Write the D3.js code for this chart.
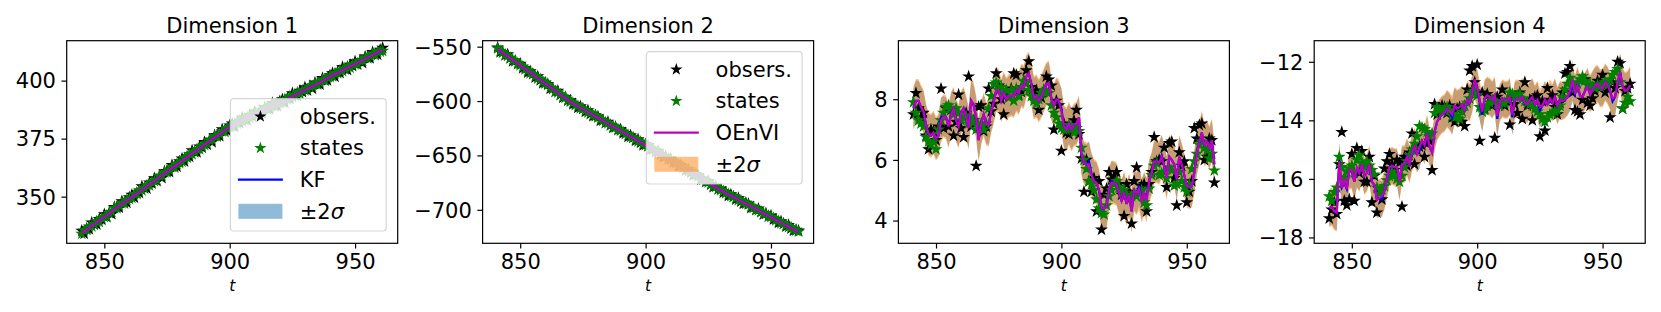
<!DOCTYPE html>
<html>
<head>
<meta charset="utf-8">
<script src="https://d3js.org/d3.v7.min.js"></script>
<style>
  body { margin: 0; background: #fff; }
  svg { display: block; font-family: "DejaVu Sans", sans-serif; }
</style>
</head>
<body>
<svg id="plot" width="1661" height="312"></svg>
<script>
// time steps shown on every panel
const tSteps = d3.range(841, 962);

// ---- Dimension 1 ----
const obs1 = [
  335.3, 334.0, 336.2, 336.0, 338.8, 338.0, 338.0, 340.3, 340.1, 342.4,
  341.2, 343.1, 342.5, 345.5, 345.5, 345.2, 348.0, 347.3, 347.4, 349.7,
  350.8, 349.6, 351.7, 351.6, 354.4, 353.6, 353.5, 356.0, 355.7, 357.9,
  356.8, 359.0, 358.0, 360.9, 361.0, 360.6, 363.6, 362.8, 362.9, 365.2,
  366.4, 365.2, 367.3, 367.2, 369.9, 369.2, 369.1, 371.6, 371.2, 373.5,
  372.4, 374.5, 373.5, 376.4, 376.4, 376.1, 379.0, 378.2, 378.3, 380.6,
  381.5, 380.1, 382.0, 381.7, 384.1, 383.1, 382.9, 385.1, 384.6, 386.6,
  385.2, 387.1, 385.9, 388.5, 388.3, 387.7, 390.3, 389.2, 389.0, 391.1,
  391.9, 390.5, 392.4, 392.1, 394.5, 393.6, 393.4, 395.6, 395.1, 397.1,
  395.8, 397.7, 396.5, 399.1, 398.8, 398.3, 401.1, 400.2, 400.1, 402.3,
  403.2, 401.7, 403.7, 403.3, 405.8, 404.9, 404.6, 406.8, 406.3, 408.3,
  406.9, 408.7, 407.6, 410.3, 410.2, 409.6, 412.3, 411.3, 411.2, 413.3,
  414.1
];
const states1 = [
  334.0, 335.4, 335.7, 337.1, 337.2, 338.2, 339.4, 339.1, 340.7, 341.2,
  341.6, 342.9, 343.5, 345.1, 345.0, 346.1, 347.2, 347.1, 348.6, 349.0,
  349.5, 351.0, 351.2, 352.7, 352.8, 353.8, 354.9, 354.8, 356.3, 356.7,
  357.2, 358.8, 359.0, 360.5, 360.5, 361.5, 362.8, 362.6, 364.1, 364.5,
  365.1, 366.6, 366.8, 368.3, 368.3, 369.4, 370.5, 370.4, 371.8, 372.3,
  372.8, 374.3, 374.5, 376.0, 375.9, 377.0, 378.2, 378.0, 379.5, 379.9,
  380.2, 381.5, 381.5, 382.8, 382.5, 383.3, 384.3, 383.9, 385.2, 385.4,
  385.6, 386.9, 386.9, 388.1, 387.8, 388.6, 389.5, 389.0, 390.2, 390.4,
  390.6, 391.9, 391.9, 393.2, 392.9, 393.8, 394.8, 394.4, 395.7, 395.9,
  396.2, 397.5, 397.5, 398.7, 398.3, 399.2, 400.3, 400.0, 401.3, 401.6,
  401.9, 403.1, 403.2, 404.4, 404.2, 405.1, 406.0, 405.6, 406.9, 407.1,
  407.3, 408.5, 408.6, 409.9, 409.7, 410.5, 411.5, 411.1, 412.4, 412.6,
  412.8
];
const mean1 = [
  334.4, 335.1, 335.9, 336.6, 337.5, 338.2, 339.0, 339.6, 340.5, 341.3,
  342.0, 342.6, 343.7, 344.6, 345.3, 346.1, 346.8, 347.6, 348.4, 349.1,
  349.9, 350.7, 351.4, 352.2, 353.1, 353.8, 354.5, 355.3, 356.1, 356.8,
  357.6, 358.5, 359.2, 360.0, 360.8, 361.5, 362.4, 363.1, 363.9, 364.6,
  365.5, 366.3, 367.0, 367.8, 368.6, 369.4, 370.1, 370.9, 371.6, 372.4,
  373.2, 374.0, 374.7, 375.5, 376.2, 377.0, 377.8, 378.5, 379.3, 380.0,
  380.6, 381.2, 381.7, 382.3, 382.8, 383.3, 383.9, 384.4, 385.0, 385.5,
  386.0, 386.6, 387.1, 387.6, 388.1, 388.6, 389.1, 389.5, 390.0, 390.5,
  391.0, 391.6, 392.1, 392.7, 393.2, 393.8, 394.4, 394.9, 395.5, 396.0,
  396.6, 397.2, 397.7, 398.2, 398.6, 399.2, 399.9, 400.5, 401.1, 401.7,
  402.3, 402.8, 403.4, 403.9, 404.5, 405.1, 405.6, 406.1, 406.7, 407.2,
  407.7, 408.2, 408.8, 409.4, 410.0, 410.5, 411.1, 411.6, 412.2, 412.7,
  413.2
];

// ---- Dimension 2 ----
const obs2 = [
  -550.8, -555.1, -555.0, -557.8, -557.1, -560.7, -563.3, -562.9, -565.9, -565.7,
  -569.8, -569.9, -573.7, -572.7, -575.2, -578.3, -577.4, -580.9, -583.5, -583.1,
  -584.4, -588.7, -588.5, -591.4, -590.7, -594.3, -596.9, -596.4, -599.5, -599.3,
  -603.0, -602.8, -606.2, -604.9, -607.1, -609.8, -608.5, -611.8, -614.0, -613.2,
  -614.2, -618.1, -617.6, -620.2, -619.1, -622.3, -624.6, -623.8, -626.5, -626.0,
  -629.7, -629.4, -632.9, -631.6, -633.7, -636.4, -635.2, -638.4, -640.6, -639.8,
  -640.8, -644.8, -644.4, -646.9, -645.9, -649.2, -651.5, -650.7, -653.5, -653.0,
  -656.8, -656.6, -660.0, -658.8, -661.0, -663.8, -662.6, -665.8, -668.1, -667.4,
  -668.4, -672.4, -671.9, -674.5, -673.5, -676.8, -679.1, -678.3, -681.1, -680.6,
  -684.2, -683.9, -687.2, -685.9, -687.9, -690.5, -689.2, -692.3, -694.5, -693.6,
  -694.4, -698.3, -697.7, -700.2, -699.0, -702.1, -704.3, -703.4, -706.1, -705.4,
  -709.0, -708.7, -712.0, -710.7, -712.7, -715.3, -714.0, -717.1, -719.3, -718.4,
  -719.2
];
const states2 = [
  -551.6, -554.0, -555.3, -557.5, -558.4, -560.4, -562.5, -563.3, -565.6, -567.0,
  -568.4, -570.8, -572.1, -574.3, -575.2, -577.2, -579.3, -580.0, -582.4, -583.8,
  -585.2, -587.6, -588.8, -591.1, -592.0, -594.0, -596.1, -596.8, -599.2, -600.6,
  -601.6, -603.7, -604.6, -606.5, -607.1, -608.7, -610.4, -610.9, -612.9, -613.9,
  -615.0, -617.0, -617.9, -619.9, -620.4, -622.0, -623.8, -624.2, -626.2, -627.3,
  -628.3, -630.3, -631.3, -633.2, -633.7, -635.3, -637.1, -637.5, -639.5, -640.5,
  -641.6, -643.7, -644.7, -646.6, -647.2, -648.9, -650.7, -651.1, -653.2, -654.3,
  -655.4, -657.5, -658.4, -660.4, -661.0, -662.7, -664.5, -664.9, -667.0, -668.1,
  -669.2, -671.3, -672.2, -674.2, -674.8, -676.5, -678.3, -678.7, -680.8, -681.9,
  -682.8, -684.8, -685.6, -687.5, -687.9, -689.4, -691.1, -691.4, -693.4, -694.3,
  -695.2, -697.2, -698.0, -699.9, -700.3, -701.8, -703.5, -703.8, -705.8, -706.7,
  -707.6, -709.6, -710.4, -712.3, -712.7, -714.2, -715.9, -716.2, -718.2, -719.1,
  -720.0
];
const mean2 = [
  -552.0, -553.7, -555.4, -557.0, -558.7, -560.4, -562.1, -563.8, -565.4, -567.1,
  -568.8, -570.5, -572.2, -573.8, -575.5, -577.2, -578.9, -580.5, -582.2, -583.9,
  -585.6, -587.3, -588.9, -590.6, -592.3, -594.0, -595.7, -597.3, -599.0, -600.7,
  -602.0, -603.4, -604.7, -606.0, -607.4, -608.7, -610.0, -611.4, -612.7, -614.0,
  -615.4, -616.7, -618.0, -619.4, -620.7, -622.0, -623.4, -624.7, -626.0, -627.4,
  -628.7, -630.0, -631.4, -632.7, -634.0, -635.3, -636.7, -638.0, -639.3, -640.6,
  -642.0, -643.4, -644.8, -646.1, -647.5, -648.9, -650.3, -651.6, -653.0, -654.4,
  -655.8, -657.2, -658.5, -659.9, -661.3, -662.7, -664.1, -665.4, -666.8, -668.2,
  -669.6, -671.0, -672.3, -673.7, -675.1, -676.5, -677.9, -679.2, -680.6, -682.0,
  -683.2, -684.5, -685.7, -687.0, -688.2, -689.4, -690.7, -691.9, -693.2, -694.4,
  -695.6, -696.9, -698.1, -699.4, -700.6, -701.8, -703.1, -704.3, -705.6, -706.8,
  -708.0, -709.3, -710.5, -711.8, -713.0, -714.2, -715.5, -716.7, -718.0, -719.2,
  -720.4
];

// ---- Dimension 3 ----
const obs3 = [
  7.50, 8.20, 7.70, 7.40, 7.55, 6.80, 6.35, 7.00, 6.95, 6.65,
  7.10, 8.35, 7.05, 7.70, 7.10, 7.65, 6.80, 7.25, 8.15, 7.05,
  6.75, 7.55, 8.75, 7.10, 7.30, 5.80, 7.75, 7.80, 6.95, 7.10,
  8.35, 7.60, 7.85, 8.85, 8.45, 8.00, 7.50, 8.20, 8.10, 8.35,
  8.85, 8.80, 8.15, 8.25, 8.60, 8.95, 9.25, 8.40, 8.15, 8.30,
  7.65, 8.05, 8.30, 8.75, 8.65, 8.45, 7.00, 7.95, 7.80, 6.30,
  7.20, 6.90, 6.85, 7.10, 7.30, 7.65, 6.85, 6.05, 4.95, 6.00,
  5.30, 4.95, 5.40, 4.30, 5.30, 3.70, 4.85, 5.05, 5.60, 5.35,
  5.45, 5.60, 5.20, 4.85, 4.15, 5.20, 4.95, 3.90, 5.30, 5.75,
  4.90, 5.15, 5.20, 4.30, 5.20, 5.60, 6.75, 5.95, 6.00, 5.95,
  6.40, 5.10, 6.55, 6.60, 5.40, 4.50, 6.25, 5.80, 5.95, 4.60,
  4.95, 5.30, 7.05, 6.70, 7.15, 7.20, 6.00, 6.10, 6.70, 6.65,
  5.25
];
const states3 = [
  7.90, 7.55, 7.30, 7.20, 7.10, 6.75, 6.60, 6.50, 6.60, 6.35,
  7.00, 7.30, 7.55, 7.75, 7.80, 7.70, 7.50, 7.70, 7.55, 7.30,
  7.40, 7.45, 7.20, 7.40, 7.25, 7.00, 7.10, 7.20, 7.00, 7.20,
  7.70, 8.10, 8.50, 8.55, 8.30, 8.40, 8.20, 8.30, 8.05, 8.30,
  7.95, 8.35, 8.10, 8.40, 8.60, 8.55, 8.30, 8.10, 7.95, 7.85,
  8.00, 8.20, 8.30, 8.25, 8.20, 7.80, 7.55, 7.40, 7.20, 7.05,
  7.00, 7.00, 7.15, 7.10, 6.90, 7.05, 6.95, 6.40, 6.00, 5.70,
  5.30, 5.20, 5.00, 4.70, 4.40, 4.25, 4.20, 4.50, 4.80, 5.00,
  5.20, 5.30, 5.10, 4.90, 5.00, 4.85, 4.70, 4.80, 4.90, 4.80,
  4.95, 5.00, 4.60, 4.50, 5.05, 5.50, 5.80, 5.90, 5.50, 5.55,
  5.60, 5.40, 5.75, 5.65, 5.15, 5.20, 5.60, 5.30, 5.10, 4.95,
  5.20, 5.70, 5.95, 6.20, 6.50, 6.60, 6.40, 6.30, 6.05, 6.20,
  5.65
];
const kf3 = [
  7.70, 7.95, 7.95, 7.75, 7.60, 7.15, 6.85, 6.80, 6.90, 6.70,
  6.80, 7.40, 7.45, 7.40, 7.10, 7.55, 7.70, 7.30, 7.10, 7.55,
  7.70, 7.40, 7.05, 7.95, 7.80, 7.40, 6.65, 7.20, 7.50, 7.20,
  7.15, 7.60, 7.90, 8.30, 8.30, 7.95, 8.20, 8.00, 8.10, 8.15,
  8.10, 8.30, 8.20, 8.45, 8.40, 8.75, 8.85, 8.50, 8.05, 8.10,
  7.95, 8.10, 8.30, 8.50, 8.55, 8.00, 7.80, 8.00, 7.90, 7.70,
  7.10, 7.00, 7.20, 7.00, 7.15, 7.20, 7.40, 6.20, 5.90, 5.85,
  5.95, 5.55, 5.30, 5.25, 5.00, 4.40, 4.40, 4.45, 5.05, 5.30,
  5.25, 5.20, 4.90, 4.65, 4.90, 4.55, 4.85, 4.30, 5.00, 4.90,
  5.15, 4.70, 4.90, 4.75, 5.30, 5.55, 5.95, 5.95, 5.90, 6.15,
  5.80, 5.45, 6.10, 6.00, 5.85, 5.35, 6.10, 5.85, 5.50, 5.15,
  5.10, 5.15, 5.60, 6.20, 6.55, 6.90, 6.50, 6.60, 6.40, 6.65,
  5.85
];
const oenvi3 = [
  7.70, 7.95, 7.95, 7.75, 7.60, 7.15, 6.85, 6.80, 6.90, 6.70,
  6.80, 7.30, 7.45, 7.40, 7.10, 7.50, 7.70, 7.30, 7.10, 7.55,
  7.70, 7.40, 7.05, 7.95, 7.85, 7.40, 6.65, 7.20, 7.50, 7.20,
  7.15, 7.60, 7.90, 8.30, 8.30, 7.95, 8.20, 8.00, 8.10, 8.15,
  8.10, 8.30, 8.20, 8.45, 8.40, 8.75, 8.85, 8.50, 8.05, 8.10,
  7.95, 8.10, 8.30, 8.50, 8.55, 8.00, 7.80, 8.00, 7.95, 7.60,
  7.10, 7.00, 7.20, 7.00, 7.15, 7.20, 7.40, 6.20, 5.90, 5.85,
  5.85, 5.50, 5.30, 5.25, 5.00, 4.40, 4.40, 4.45, 5.05, 5.25,
  5.25, 5.20, 4.90, 4.65, 4.90, 4.55, 4.85, 4.30, 5.00, 4.90,
  5.05, 4.65, 4.90, 4.65, 5.30, 5.55, 5.95, 5.95, 5.90, 6.10,
  5.80, 5.40, 6.10, 6.00, 5.85, 5.35, 6.10, 5.85, 5.50, 5.15,
  5.10, 5.15, 5.60, 6.20, 6.55, 6.90, 6.50, 6.60, 6.40, 6.65,
  5.85
];

// ---- Dimension 4 ----
const obs4 = [
  -17.35, -17.05, -16.80, -17.20, -15.50, -14.40, -16.75, -16.90, -16.70, -15.15,
  -16.75, -14.95, -15.80, -15.05, -16.10, -16.10, -15.25, -16.80, -15.90, -17.15,
  -16.45, -16.70, -15.65, -15.40, -15.15, -15.50, -15.70, -15.35, -15.45, -16.95,
  -15.25, -15.55, -15.10, -14.45, -15.50, -15.00, -14.90, -14.85, -15.25, -14.80,
  -14.70, -15.70, -13.45, -13.80, -13.60, -13.50, -13.55, -13.75, -13.50, -13.90,
  -14.05, -13.60, -13.55, -14.05, -14.20, -12.95, -12.30, -12.15, -12.70, -12.10,
  -14.70, -13.05, -13.60, -13.10, -13.25, -13.50, -14.60, -13.20, -13.40, -12.95,
  -13.50, -13.35, -14.15, -13.20, -13.45, -13.75, -13.05, -13.95, -12.70, -13.50,
  -13.30, -14.00, -13.20, -13.15, -14.55, -13.35, -14.35, -12.90, -13.30, -13.15,
  -13.55, -13.80, -13.40, -13.05, -12.40, -12.35, -12.15, -13.05, -13.65, -13.70,
  -13.80, -13.30, -12.60, -13.40, -13.50, -13.25, -13.00, -12.65, -12.80, -12.45,
  -13.05, -12.90, -13.90, -12.70, -12.90, -12.00, -12.05, -13.60, -13.00, -12.90,
  -12.75
];
const states4 = [
  -16.60, -16.75, -16.45, -16.30, -15.25, -15.60, -15.95, -15.75, -15.65, -15.55,
  -15.80, -15.35, -15.20, -15.45, -15.60, -15.40, -15.55, -15.70, -15.85, -16.30,
  -16.50, -16.35, -16.25, -16.05, -15.90, -15.75, -15.85, -16.00, -16.10, -15.90,
  -15.60, -15.40, -15.20, -15.00, -14.80, -14.55, -14.20, -14.25, -14.30, -14.40,
  -14.55, -14.45, -13.75, -13.55, -13.65, -13.70, -13.60, -13.55, -13.65, -13.85,
  -13.90, -13.85, -13.95, -13.70, -13.50, -13.40, -13.25, -13.05, -13.00, -13.15,
  -13.55, -13.70, -13.65, -13.50, -13.40, -13.30, -13.35, -13.45, -13.50, -13.40,
  -13.40, -13.30, -13.05, -13.10, -13.20, -13.15, -13.10, -13.25, -13.35, -13.40,
  -13.45, -13.50, -13.60, -13.70, -13.80, -13.95, -14.05, -13.90, -13.80, -13.75,
  -13.70, -13.65, -13.50, -13.20, -12.95, -12.75, -12.55, -12.70, -12.90, -12.75,
  -12.60, -12.50, -12.65, -12.80, -12.75, -12.85, -12.90, -12.80, -12.85, -12.75,
  -12.70, -12.80, -12.60, -12.45, -12.35, -12.25, -12.70, -13.60, -13.40, -13.20,
  -13.35
];
const kf4 = [
  -17.00, -16.95, -17.10, -17.15, -15.40, -16.30, -16.15, -16.35, -15.70, -15.70,
  -16.10, -15.70, -15.80, -15.50, -15.90, -15.80, -15.50, -16.10, -16.20, -16.70,
  -16.65, -16.70, -16.40, -16.00, -15.60, -15.55, -15.60, -15.60, -16.10, -15.50,
  -15.50, -15.25, -15.50, -15.10, -14.90, -15.15, -15.05, -14.70, -14.85, -14.45,
  -14.90, -15.10, -14.40, -14.05, -13.90, -13.80, -13.75, -13.60, -13.70, -13.90,
  -13.50, -13.60, -13.55, -13.45, -13.65, -13.30, -13.40, -13.10, -12.60, -12.90,
  -13.40, -13.80, -13.25, -13.15, -13.20, -13.30, -13.15, -13.95, -13.40, -13.25,
  -13.30, -13.30, -13.20, -13.90, -13.30, -13.25, -13.30, -13.20, -13.40, -13.45,
  -13.30, -13.20, -13.45, -13.30, -13.65, -13.50, -13.30, -13.45, -13.35, -13.40,
  -13.20, -13.50, -13.30, -13.35, -13.30, -13.20, -13.10, -12.75, -13.10, -12.80,
  -13.15, -13.20, -13.00, -12.85, -13.10, -12.95, -12.80, -12.75, -12.90, -12.90,
  -12.70, -12.80, -13.00, -13.35, -13.20, -12.70, -12.35, -12.85, -13.00, -12.95,
  -12.80
];
const oenvi4 = [
  -17.00, -16.95, -17.10, -17.15, -15.40, -16.30, -16.05, -16.35, -15.70, -15.70,
  -16.10, -15.60, -15.80, -15.50, -15.90, -15.80, -15.50, -16.10, -16.20, -16.70,
  -16.65, -16.60, -16.40, -16.00, -15.60, -15.55, -15.60, -15.60, -16.10, -15.50,
  -15.50, -15.25, -15.50, -15.10, -14.90, -15.15, -14.90, -14.70, -14.85, -14.45,
  -14.90, -15.10, -14.40, -14.05, -13.90, -13.80, -13.75, -13.60, -13.70, -13.80,
  -13.50, -13.60, -13.55, -13.45, -13.65, -13.30, -13.40, -13.10, -12.60, -12.90,
  -13.30, -13.70, -13.25, -13.15, -13.20, -13.30, -13.15, -13.85, -13.40, -13.25,
  -13.30, -13.30, -13.20, -13.80, -13.30, -13.25, -13.30, -13.20, -13.40, -13.45,
  -13.30, -13.20, -13.45, -13.30, -13.55, -13.50, -13.30, -13.45, -13.25, -13.40,
  -13.20, -13.50, -13.30, -13.35, -13.30, -13.20, -13.00, -12.60, -13.10, -12.80,
  -13.15, -13.20, -13.00, -12.85, -13.10, -12.95, -12.80, -12.75, -12.90, -12.90,
  -12.70, -12.80, -13.00, -13.25, -13.20, -12.70, -12.35, -12.85, -13.00, -12.95,
  -12.80
];

// 2-sigma half widths of the two filters, per dimension
const kfTwoSigma = [0.6, 0.7, 0.66, 0.6];
const oenviTwoSigma = [0.6, 0.7, 0.72, 0.65];

// axis limits and ticks
const titles = ["Dimension 1", "Dimension 2", "Dimension 3", "Dimension 4"];
const xLimits = [835, 967];
const xTicks = [850, 900, 950];
const yLimits = [[329.9, 417.2], [-730.8, -544.5], [3.25, 9.93], [-18.2, -11.28]];
const yTicks = [[350, 375, 400], [-700, -650, -600, -550], [4, 6, 8], [-18, -16, -14, -12]];

const panels = [
  { obs: obs1, states: states1, kf: mean1, oenvi: mean1, legend: "kf" },
  { obs: obs2, states: states2, kf: mean2, oenvi: mean2, legend: "oenvi" },
  { obs: obs3, states: states3, kf: kf3, oenvi: oenvi3 },
  { obs: obs4, states: states4, kf: kf4, oenvi: oenvi4 }
];

const svg = d3.select("#plot");
const lefts = [66.7, 482.6, 898.4, 1314.2];
const plotTop = 40.7, plotW = 331, plotH = 202.6;
const fontSize = 21;
const BLUE = "#1f77b4", ORANGE = "#ff7f0e";

const fmt = v => (v < 0 ? "\u2212" + Math.abs(v) : String(v));
const star = d3.symbol().type(d3.symbolStar).size(25);

panels.forEach((p, i) => {
  const g = svg.append("g").attr("transform", "translate(" + lefts[i] + "," + plotTop + ")");
  const x = d3.scaleLinear().domain(xLimits).range([0, plotW]);
  const y = d3.scaleLinear().domain(yLimits[i]).range([plotH, 0]);

  g.append("clipPath").attr("id", "clip" + i)
    .append("rect").attr("width", plotW).attr("height", plotH);
  const area = g.append("g").attr("clip-path", "url(#clip" + i + ")");

  const band = hw => d3.area()
    .x((d, j) => x(tSteps[j]))
    .y0(d => y(d - hw))
    .y1(d => y(d + hw));
  const line = d3.line().x((d, j) => x(tSteps[j])).y(d => y(d));

  area.append("path").datum(p.kf).attr("d", band(kfTwoSigma[i]))
    .attr("fill", BLUE).attr("fill-opacity", 0.5);
  area.append("path").datum(p.oenvi).attr("d", band(oenviTwoSigma[i]))
    .attr("fill", ORANGE).attr("fill-opacity", 0.5);

  area.selectAll("path.obs").data(p.obs).join("path")
    .attr("class", "obs")
    .attr("transform", (d, j) => "translate(" + x(tSteps[j]) + "," + y(d) + ")")
    .attr("d", star).attr("fill", "#000").attr("stroke", "#000").attr("stroke-width", 1.3);
  area.selectAll("path.st").data(p.states).join("path")
    .attr("class", "st")
    .attr("transform", (d, j) => "translate(" + x(tSteps[j]) + "," + y(d) + ")")
    .attr("d", star).attr("fill", "#008000").attr("stroke", "#008000").attr("stroke-width", 1.3);

  area.append("path").datum(p.kf).attr("d", line)
    .attr("fill", "none").attr("stroke", "#0000ff").attr("stroke-width", 2.2);
  area.append("path").datum(p.oenvi).attr("d", line)
    .attr("fill", "none").attr("stroke", "#bf00bf").attr("stroke-width", 2.2);

  // axes
  const xAxis = g.append("g").attr("transform", "translate(0," + plotH + ")")
    .call(d3.axisBottom(x).tickValues(xTicks).tickSize(5.25).tickSizeOuter(0).tickPadding(5.5).tickFormat(fmt));
  const yAxis = g.append("g")
    .call(d3.axisLeft(y).tickValues(yTicks[i]).tickSize(5.25).tickSizeOuter(0).tickPadding(5.5).tickFormat(fmt));
  [xAxis, yAxis].forEach(a => {
    a.select(".domain").remove();
    a.selectAll(".tick line").attr("stroke", "#000").attr("stroke-width", 1.2);
    a.selectAll(".tick text").attr("fill", "#000")
      .style("font-size", fontSize + "px").style("font-family", "DejaVu Sans");
  });
  yAxis.selectAll(".tick text").attr("dy", "0.35em");

  g.append("rect").attr("width", plotW).attr("height", plotH)
    .attr("fill", "none").attr("stroke", "#000").attr("stroke-width", 1.2);

  g.append("text").attr("x", plotW / 2).attr("y", 33 - plotTop)
    .attr("text-anchor", "middle").style("font-size", fontSize + "px")
    .text(titles[i]);
  g.append("text").attr("x", plotW / 2).attr("y", 291.5 - plotTop)
    .attr("text-anchor", "middle").style("font-size", "15.5px").style("font-style", "italic")
    .text("t");

  if (p.legend) {
    const isKF = p.legend === "kf";
    const entries = [
      { kind: "star", color: "#000", label: "obsers." },
      { kind: "star", color: "#008000", label: "states" },
      { kind: "line", color: isKF ? "#0000ff" : "#bf00bf", label: isKF ? "KF" : "OEnVI" },
      { kind: "patch", color: isKF ? BLUE : ORANGE, label: "\u00b12" }
    ];
    const boxW = 155.8, boxH = 132.3;
    const bx = plotW - 11.5 - boxW;
    const by = isKF ? plotH - 12.3 - boxH : 11;
    const lg = g.append("g").attr("transform", "translate(" + bx + "," + by + ")");
    lg.append("rect").attr("width", boxW).attr("height", boxH).attr("rx", 3)
      .attr("fill", "#fff").attr("fill-opacity", 0.8)
      .attr("stroke", "#ccc").attr("stroke-opacity", 0.8).attr("stroke-width", 1.2);
    entries.forEach((e, k) => {
      const cy = 17.8 + k * 31.6;
      if (e.kind === "star") {
        lg.append("path").attr("transform", "translate(30," + cy + ")").attr("d", star)
          .attr("fill", e.color).attr("stroke", e.color).attr("stroke-width", 1.1);
      } else if (e.kind === "line") {
        lg.append("line").attr("x1", 7.5).attr("x2", 52.5).attr("y1", cy).attr("y2", cy)
          .attr("stroke", e.color).attr("stroke-width", 2.2);
      } else {
        lg.append("rect").attr("x", 8).attr("y", cy - 7.5).attr("width", 44).attr("height", 15)
          .attr("fill", e.color).attr("fill-opacity", 0.5);
      }
      const tx = lg.append("text").attr("x", 69.3).attr("y", cy).attr("dy", "0.35em")
        .style("font-size", fontSize + "px").text(e.label);
      if (e.kind === "patch") tx.append("tspan").style("font-style", "italic").text("\u03c3");
    });
  }
});
</script>
</body>
</html>
